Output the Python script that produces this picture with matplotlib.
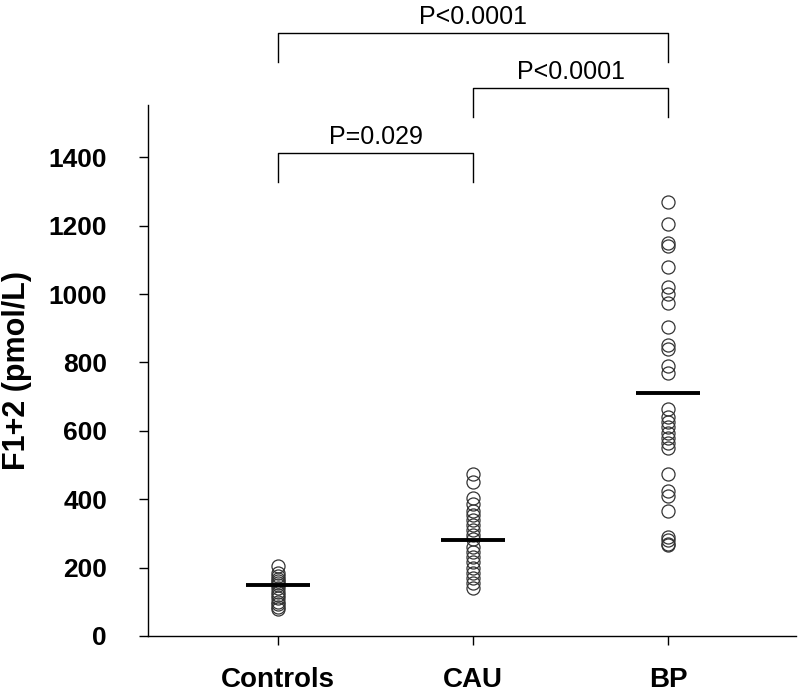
import matplotlib
matplotlib.use('Agg')
import matplotlib.pyplot as plt

plt.rcParams['font.family'] = ['Liberation Sans', 'DejaVu Sans']

# data
groups = ['Controls', 'CAU', 'BP']
controls = [205, 185, 175, 168, 160, 155, 148, 140, 130, 120, 110, 100, 95, 85, 78]
cau = [475, 450, 405, 385, 365, 355, 340, 325, 310, 295, 285, 260, 245, 230,
       215, 200, 185, 170, 155, 140]
bp = [1270, 1205, 1150, 1140, 1080, 1020, 1000, 975, 905, 850, 840, 790, 770,
      665, 640, 625, 610, 595, 580, 565, 550, 475, 425, 410, 365, 290, 280, 270, 265]
medians = [148, 281, 712]
yticks = [0, 200, 400, 600, 800, 1000, 1200, 1400]

# comparisons: (group a, group b, label)
comparisons = [(1, 3, 'P<0.0001'), (2, 3, 'P<0.0001'), (1, 2, 'P=0.029')]
bracket_top = [1763, 1602, 1412]
bracket_drop = 85

fig = plt.figure(figsize=(8, 6.94), dpi=100)
ax = fig.add_axes([0.185, 0.0836, 0.81, 0.7651])

for i, vals in enumerate([controls, cau, bp]):
    xpos = [i + 1] * len(vals)
    ax.plot(xpos, vals, linestyle='none', marker='o', markersize=9.4,
            markerfacecolor='none', markeredgecolor='#333333', markeredgewidth=0.9)
    ax.plot([i + 1 - 0.165, i + 1 + 0.165], [medians[i], medians[i]],
            color='black', linewidth=2.8, solid_capstyle='butt')

for (a, b, lab), top in zip(comparisons, bracket_top):
    ax.plot([a, a, b, b], [top - bracket_drop, top, top, top - bracket_drop],
            color='black', linewidth=1.0, clip_on=False)
    ax.text((a + b) / 2, top + 26, lab, ha='center', va='baseline',
            fontsize=18, clip_on=False)

ax.set_xlim(0.332, 3.657)
ax.set_ylim(0, 1553)
ax.set_xticks([1, 2, 3])
ax.set_xticklabels(groups, fontsize=20, fontweight='bold')
ax.set_yticks(yticks)
ax.set_yticklabels([str(t) for t in yticks], fontsize=19, fontweight='bold')
ax.tick_params(axis='y', direction='out', length=6.5, width=1.0, pad=23)
ax.tick_params(axis='x', direction='out', length=6.5, width=1.0, pad=16)
ax.set_ylabel('F1+2 (pmol/L)', fontsize=22, fontweight='bold', labelpad=12)

for s in ['top', 'right']:
    ax.spines[s].set_visible(False)
for s in ['left', 'bottom']:
    ax.spines[s].set_linewidth(1.0)

plt.savefig('out.png', dpi=100)
